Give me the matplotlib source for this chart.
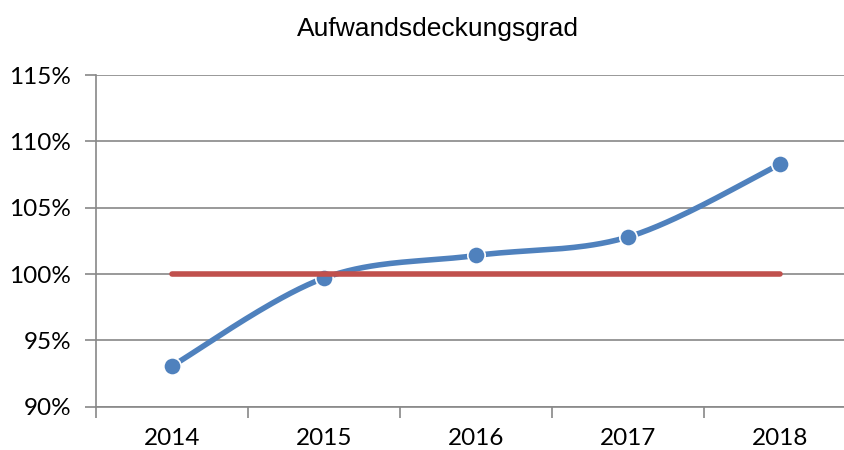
import numpy as np
import matplotlib.pyplot as plt
from matplotlib.ticker import FixedLocator, FuncFormatter

years = ['2014', '2015', '2016', '2017', '2018']
deckungsgrad = [93.07, 99.7, 101.4, 102.8, 108.3]
ziel = [100, 100, 100, 100, 100]
yticks = [90, 95, 100, 105, 110, 115]

plt.rcParams['font.family'] = ['Lato', 'DejaVu Sans']

blue = '#4F81BD'
red = '#C0504D'
grid = '#888888'


def catmull_rom(x, y, n=40):
    # smoothed line like the spreadsheet one
    x = np.asarray(x, float)
    y = np.asarray(y, float)
    px = np.concatenate([[x[0]], x, [x[-1]]])
    py = np.concatenate([[y[0]], y, [y[-1]]])
    xs, ys = [], []
    for i in range(1, len(px) - 2):
        p0, p1, p2, p3 = (np.array([px[j], py[j]]) for j in range(i - 1, i + 3))
        c1 = p1 + (p2 - p0) / 6
        c2 = p2 - (p3 - p1) / 6
        t = np.linspace(0, 1, n)[:, None]
        pts = (1 - t) ** 3 * p1 + 3 * (1 - t) ** 2 * t * c1 + 3 * (1 - t) * t ** 2 * c2 + t ** 3 * p2
        xs.extend(pts[:, 0])
        ys.extend(pts[:, 1])
    return np.array(xs), np.array(ys)


fig = plt.figure(figsize=(8.45, 4.5), dpi=100)
ax = fig.add_axes([0.1136, 0.0962, 0.9, 0.7371])

xpos = np.arange(len(years))
sx, sy = catmull_rom(xpos, deckungsgrad)

ax.plot(sx, sy, color=blue, lw=4, solid_capstyle='round', zorder=3)
ax.plot(xpos, deckungsgrad, 'o', color=blue, ms=12.5, mec='white', mew=1.2, zorder=4)
ax.plot(xpos, ziel, color=red, lw=4, solid_capstyle='round', zorder=5)

ax.set_xlim(-0.5, len(years) - 0.5)
ax.set_ylim(90, 115)
ax.set_yticks(yticks)
ax.yaxis.set_major_formatter(FuncFormatter(lambda v, p: '%d%%' % v))
ax.grid(axis='y', color=grid, lw=1.2)
ax.set_axisbelow(True)

ax.xaxis.set_major_locator(FixedLocator(np.arange(-0.5, len(years), 1)))
ax.xaxis.set_minor_locator(FixedLocator(xpos))
ax.set_xticklabels([])
ax.set_xticklabels(years, minor=True)
ax.tick_params(axis='x', which='major', length=8, width=1.2, color=grid, direction='out')
ax.tick_params(axis='x', which='minor', length=0, pad=15, labelsize=17.5)
ax.tick_params(axis='y', length=8, width=1.2, color=grid, pad=10, labelsize=17.5)

for s in ['top', 'right']:
    ax.spines[s].set_visible(False)
for s in ['left', 'bottom']:
    ax.spines[s].set_color(grid)
    ax.spines[s].set_linewidth(1.2)

fig.text(0.518, 0.935, 'Aufwandsdeckungsgrad', ha='center', va='center',
         fontsize=19, family=['Liberation Sans', 'DejaVu Sans'])

fig.savefig('out.png', dpi=100)
